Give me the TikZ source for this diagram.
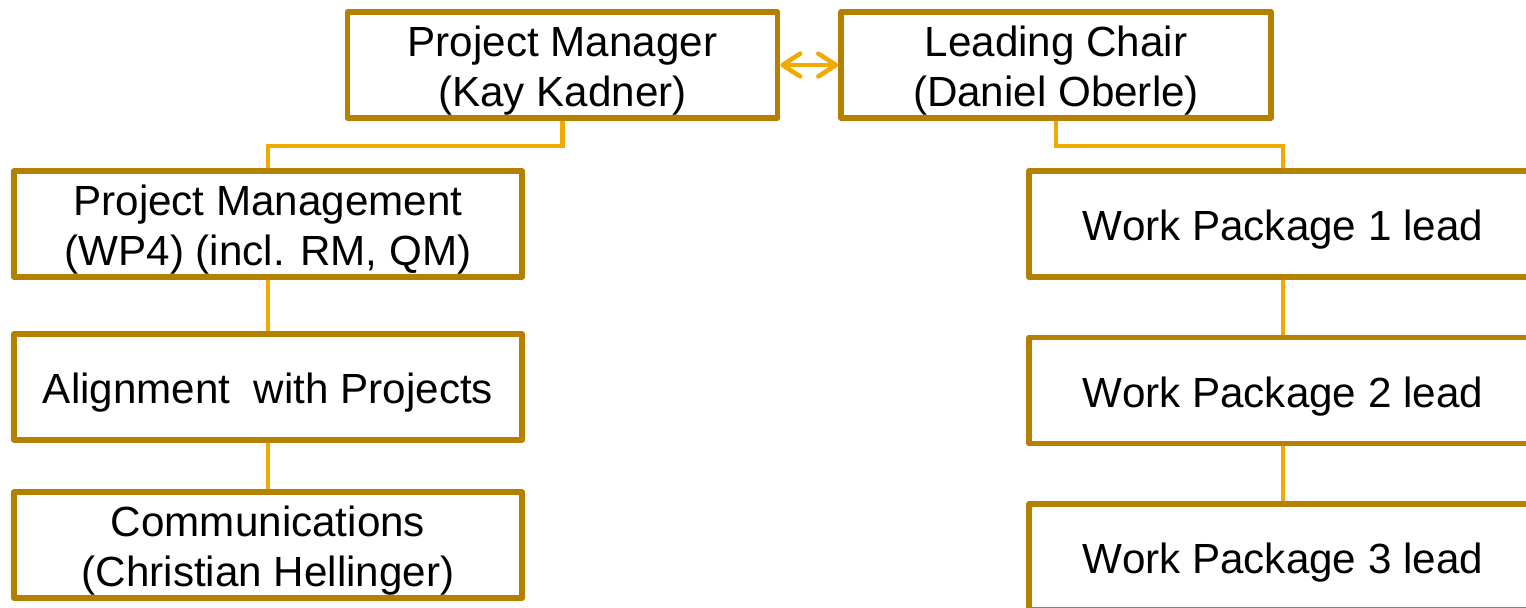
\documentclass[tikz,border=0pt]{standalone}
\usepackage{fontspec}
\setmainfont{Liberation Sans}
\usetikzlibrary{arrows.meta}
\definecolor{boxgold}{RGB}{181,128,0}
\definecolor{linkgold}{RGB}{240,170,0}
% text of a box, set a little below the middle
\newcommand{\rolelabel}[1]{\raisebox{-3.8pt}[\height][\depth]{\begin{tabular}{@{}c@{}}#1\end{tabular}}}
\begin{document}
\begin{tikzpicture}[
        role/.style={draw=boxgold, line width=3.2pt, line join=round, fill=white, inner sep=0pt,
            minimum height=2.12cm, font=\fontsize{24}{28.5}\selectfont},
        head/.style={role, minimum width=8.6cm},
        unit/.style={role, minimum width=10.16cm},
        link/.style={draw=linkgold, line width=2.6pt},
        barb/.tip={Straight Barb[length=10pt,width=13pt,line cap=round,line join=round]}
    ]
        \useasboundingbox (0,0) rectangle (30.52,-12.14);
        \clip (0,0) rectangle (30.52,-12.14);
        \node[head] (pm) at (11.25,-1.3) {\rolelabel{Project Manager\\(Kay Kadner)}};
        \node[head] (chair) at (21.12,-1.3) {\rolelabel{Leading Chair\\(Daniel Oberle)}};
        \node[unit] (pmg) at (5.36,-4.48) {\rolelabel{Project Management\\(WP4) (incl. RM, QM)}};
        \node[unit] (align) at (5.36,-7.74) {\rolelabel{Alignment\ \ with Projects}};
        \node[unit] (comm) at (5.36,-10.9) {\rolelabel{Communications\\(Christian Hellinger)}};
        \node[unit] (wp1) at (25.66,-4.48) {\rolelabel{Work Package 1 lead}};
        \node[unit] (wp2) at (25.66,-7.81) {\rolelabel{Work Package 2 lead}};
        \node[unit] (wp3) at (25.66,-11.14) {\rolelabel{Work Package 3 lead}};
        \draw[link, barb-barb] (pm) -- (chair);
        \draw[link] (pm.south) -- ++(0,-0.5) -| (pmg.north);
        \draw[link] (pmg) -- (align);
        \draw[link] (align) -- (comm);
        \draw[link] (chair.south) -- ++(0,-0.5) -| (wp1.north);
        \draw[link] (wp1) -- (wp2);
        \draw[link] (wp2) -- (wp3);
    \end{tikzpicture}
\end{document}
